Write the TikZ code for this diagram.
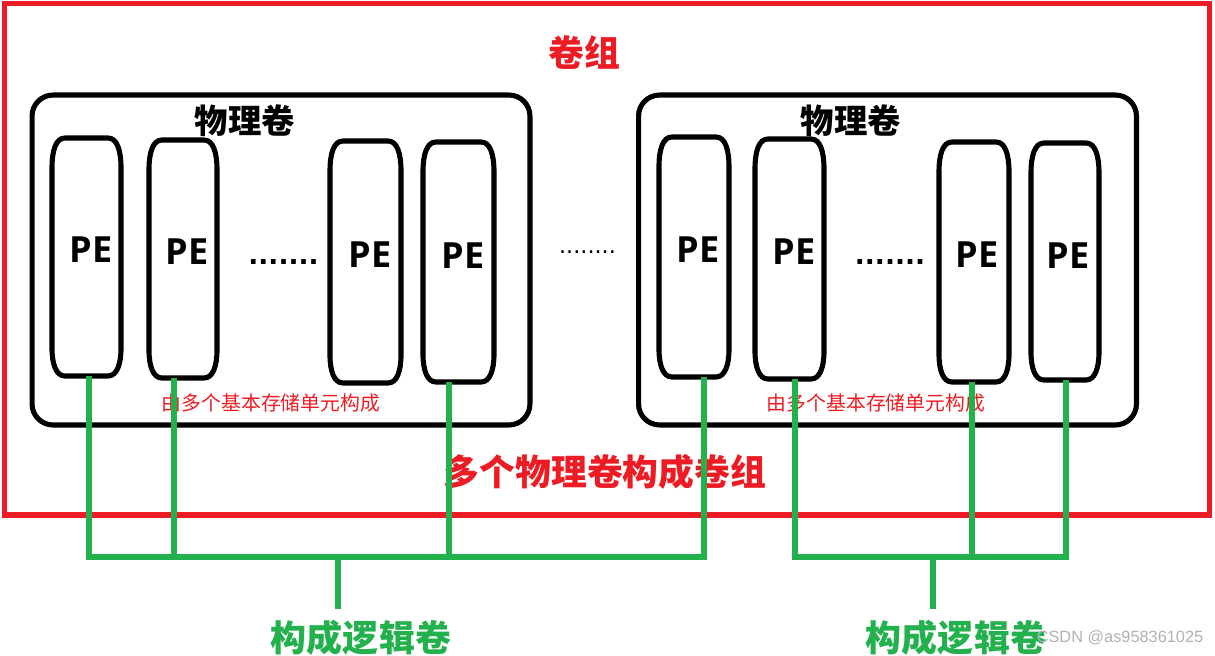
\documentclass[tikz,border=0pt]{standalone}
\usepackage{fontspec}
\newfontfamily\cjk{Noto Sans CJK SC}
\newfontfamily\latinb{Open Sans}
\newfontfamily\dotfont{DejaVu Sans}
\newfontfamily\wmfont{Liberation Sans}
\definecolor{pred}{HTML}{ED1C24}
\definecolor{pgreen}{HTML}{22B14C}
\tikzset{
  blk/.style={draw=black, line width=2.9pt},
  pvbox/.style={blk, rounded corners=0.42cm, inner sep=0pt, minimum width=9.96cm, minimum height=6.6cm},
  vgbox/.style={draw=pred, line width=2.9pt, inner sep=0pt, minimum width=24.12cm, minimum height=10.24cm},
  petxt/.style={inner sep=0pt, font=\latinb\bfseries\fontsize{20.5pt}{20.5pt}\selectfont},
  pvtxt/.style={inner sep=0pt, font=\cjk\bfseries\fontsize{19pt}{19pt}\selectfont},
  redbig/.style={inner sep=0pt, text=pred, font=\cjk\bfseries\fontsize{20.4pt}{20.4pt}\selectfont},
  redsmall/.style={inner sep=0pt, text=pred, font=\cjk\fontsize{11.3pt}{11.3pt}\selectfont},
  lvtxt/.style={inner sep=0pt, text=pgreen, font=\cjk\bfseries\fontsize{20.5pt}{20.5pt}\selectfont},
  bigdots/.style={inner sep=0pt, font=\dotfont\bfseries\fontsize{15pt}{15pt}\selectfont},
  smalldots/.style={inner sep=0pt, font=\dotfont\fontsize{12.7pt}{12.7pt}\selectfont},
  gw/.style={draw=pgreen, line width=2.9pt},
  wm/.style={inner sep=0pt, text=black!30, font=\wmfont\fontsize{9.3pt}{9.3pt}\selectfont}
}
% name, left, top, right, bottom, wire x, text x, text y
\newcommand\pecap[8]{%
  \draw[blk] (#2,#3+30) .. controls (#2,#3+12) and (#2+4,#3) .. (#2+13,#3)
    -- (#4-13,#3) .. controls (#4-4,#3) and (#4,#3+12) .. (#4,#3+30)
    -- (#4,#5-28) .. controls (#4,#5-12) and (#4-4,#5) .. (#4-13,#5)
    -- (#2+13,#5) .. controls (#2+4,#5) and (#2,#5-12) .. (#2,#5-28) -- cycle;
  \node[petxt] (#1) at (#7,#8) {PE};
  \coordinate (#1b) at (#6,#5);
}
\begin{document}
\begin{tikzpicture}[x=0.02cm, y=-0.02cm]
\useasboundingbox[fill=white] (0,0) rectangle (1215,656);

% volume group
\node[vgbox] (vg) at (607,259) {};
\node[redbig] (vgt) at (584,53) {卷组};

% physical volumes
\node[pvbox] (pv1) at (281,260) {};
\node[pvbox] (pv2) at (887.5,260) {};
\node[pvtxt] (pv1t) at (245,121) {物理卷};
\node[pvtxt] (pv2t) at (851,121) {物理卷};

% PEs, left
\pecap{L1}{52}{138}{121}{376}{89}{91}{250}
\pecap{L2}{149}{140}{217}{378}{174}{187}{252}
\pecap{L3}{330}{141}{401}{383}{365}{370}{255}
\pecap{L4}{423}{142}{494}{382}{449}{463}{256}
% PEs, right
\pecap{R1}{659}{137}{729}{377}{704}{698}{250}
\pecap{R2}{755}{139}{824}{379}{795}{794}{252}
\pecap{R3}{939}{142}{1009}{382}{972}{977}{255}
\pecap{R4}{1031}{143}{1099}{380}{1066}{1068}{256}

% dots
\node[bigdots] (d1) at (283.5,262) {.......};
\node[smalldots] (d2) at (587.5,252) {........};
\node[bigdots] (d3) at (890,262) {.......};

% captions
\node[redsmall] (c1) at (271,403) {由多个基本存储单元构成};
\node[redsmall] (c2) at (876,403) {由多个基本存储单元构成};
\node[redbig] (vgc) at (605,472) {多个物理卷构成卷组};

% logical volume labels
\node[lvtxt] (lv1) at (361,638) {构成逻辑卷};
\node[lvtxt] (lv2) at (956,638) {构成逻辑卷};
\node[wm] (wmk) at (1120,638) {CSDN @as958361025};

% green connectors
\coordinate (bus1) at (338,557);
\coordinate (bus2) at (933,557);
\draw[gw] (L1b) |- (bus1) -| (R1b);
\draw[gw] (L2b) -- (L2b |- bus1);
\draw[gw] (L4b) -- (L4b |- bus1);
\draw[gw] (bus1) -- (bus1 |- 0,609);
\draw[gw] (R2b) |- (bus2) -| (R4b);
\draw[gw] (R3b) -- (R3b |- bus2);
\draw[gw] (bus2) -- (bus2 |- 0,609);
\end{tikzpicture}
\end{document}
